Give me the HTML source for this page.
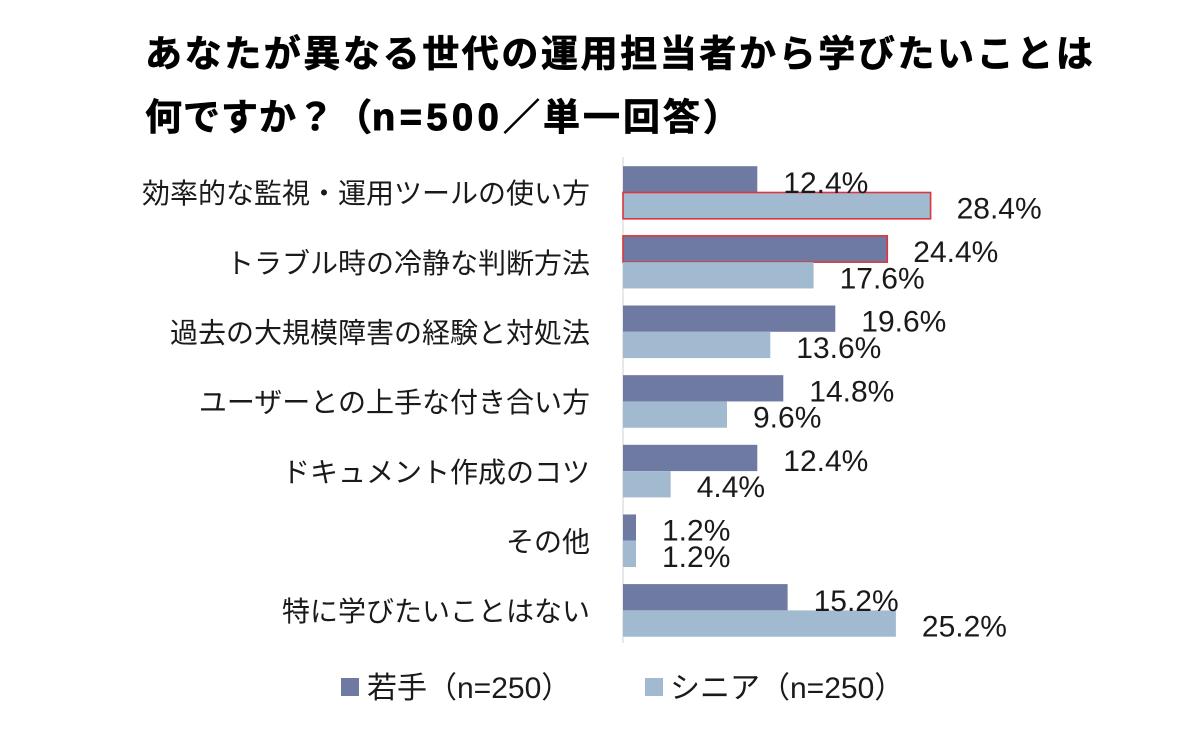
<!DOCTYPE html>
<html>
<head>
<meta charset="utf-8">
<style>
  html, body { margin:0; padding:0; background:#ffffff; }
  body { width:1200px; height:741px; overflow:hidden; }
  svg { display:block; }
  .t { font-family:"Liberation Sans","Noto Sans CJK JP",sans-serif; font-weight:bold; fill:#000; stroke:#000; stroke-width:0.7; }
  .cat { font-family:"Liberation Sans","Noto Sans CJK JP",sans-serif; font-size:28px; fill:#1a1a1a; }
  .val { font-family:"Liberation Sans","Noto Sans CJK JP",sans-serif; font-size:30px; fill:#1a1a1a; }
  .leg { font-family:"Liberation Sans","Noto Sans CJK JP",sans-serif; font-size:30px; fill:#1a1a1a; }
</style>
</head>
<body>
<svg width="1200" height="741" viewBox="0 0 1200 741" xmlns="http://www.w3.org/2000/svg">
  <rect x="0" y="0" width="1200" height="741" fill="#ffffff"/>

  <!-- Title -->
  <text class="t" x="145" y="66.5" font-size="37" letter-spacing="2.6">あなたが異なる世代の運用担当者から学びたいことは</text>
  <text class="t" y="130" font-size="37">
    <tspan x="145" letter-spacing="1">何ですか？（</tspan><tspan x="372" font-family="Liberation Sans, sans-serif" font-size="38" letter-spacing="4.5" stroke-width="1">n=500</tspan><tspan x="503" letter-spacing="3">／単一回答）</tspan>
  </text>

  <!-- Axis line -->
  <line x1="623" y1="157" x2="623" y2="643" stroke="#d9d9d9" stroke-width="1.2"/>

  <!-- Bars -->
  <g>
    <rect x="623" y="166.2" width="134.3" height="26.3" fill="#6f7aa3"/>
    <rect x="623" y="192.5" width="307.6" height="26.3" fill="#a2bacf" stroke="#d9363e" stroke-width="1.6"/>

    <rect x="623" y="235.85" width="264.3" height="26.3" fill="#6f7aa3" stroke="#d9363e" stroke-width="1.6"/>
    <rect x="623" y="262.15" width="190.6" height="26.3" fill="#a2bacf"/>

    <rect x="623" y="305.5" width="212.3" height="26.3" fill="#6f7aa3"/>
    <rect x="623" y="331.8" width="147.3" height="26.3" fill="#a2bacf"/>

    <rect x="623" y="375.15" width="160.3" height="26.3" fill="#6f7aa3"/>
    <rect x="623" y="401.45" width="104.0" height="26.3" fill="#a2bacf"/>

    <rect x="623" y="444.8" width="134.3" height="26.3" fill="#6f7aa3"/>
    <rect x="623" y="471.1" width="47.7" height="26.3" fill="#a2bacf"/>

    <rect x="623" y="514.45" width="13.0" height="26.3" fill="#6f7aa3"/>
    <rect x="623" y="540.75" width="13.0" height="26.3" fill="#a2bacf"/>

    <rect x="623" y="584.1" width="164.6" height="26.3" fill="#6f7aa3"/>
    <rect x="623" y="610.4" width="272.9" height="26.3" fill="#a2bacf"/>
  </g>

  <!-- Value labels -->
  <text class="val" x="783.3" y="193">12.4%</text>
  <text class="val" x="956.6" y="218.6">28.4%</text>
  <text class="val" x="913.3" y="262">24.4%</text>
  <text class="val" x="839.6" y="288.3">17.6%</text>
  <text class="val" x="861.3" y="331.7">19.6%</text>
  <text class="val" x="796.3" y="357.9">13.6%</text>
  <text class="val" x="809.3" y="401.4">14.8%</text>
  <text class="val" x="753" y="427.6">9.6%</text>
  <text class="val" x="783.3" y="471">12.4%</text>
  <text class="val" x="696.7" y="497.2">4.4%</text>
  <text class="val" x="662" y="540.7">1.2%</text>
  <text class="val" x="662" y="566.9">1.2%</text>
  <text class="val" x="813.6" y="611">15.2%</text>
  <text class="val" x="921.9" y="636.5">25.2%</text>

  <!-- Category labels -->
  <text class="cat" x="590" y="203.2" text-anchor="end">効率的な監視・運用ツールの使い方</text>
  <text class="cat" x="590" y="272.9" text-anchor="end">トラブル時の冷静な判断方法</text>
  <text class="cat" x="590" y="342.5" text-anchor="end">過去の大規模障害の経験と対処法</text>
  <text class="cat" x="590" y="412.1" text-anchor="end">ユーザーとの上手な付き合い方</text>
  <text class="cat" x="590" y="481.8" text-anchor="end">ドキュメント作成のコツ</text>
  <text class="cat" x="590" y="551.5" text-anchor="end">その他</text>
  <text class="cat" x="590" y="621.1" text-anchor="end">特に学びたいことはない</text>

  <!-- Legend -->
  <rect x="341" y="678" width="18" height="18" fill="#6f7aa3"/>
  <text class="leg" x="367" y="698">若手（n=250）</text>
  <rect x="645" y="678" width="18" height="18" fill="#a2bacf"/>
  <text class="leg" x="670" y="698">シニア（n=250）</text>
</svg>
</body>
</html>
